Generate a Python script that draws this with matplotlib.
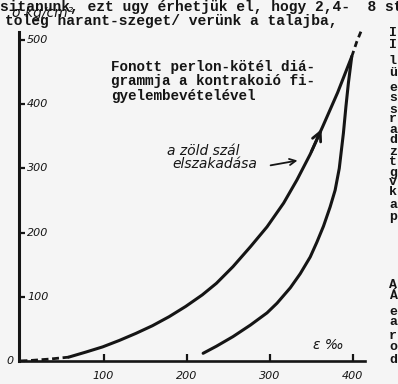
import matplotlib.pyplot as plt

# loading branch (dashed near the origin, then solid)
load_dash_x = [0, 14, 35, 58]
load_dash_y = [0, 1, 3, 6]
load_x = [58, 79, 99, 119, 139, 159, 179, 199, 219, 236, 256, 277, 297, 317, 333, 349, 364, 382, 399]
load_y = [6, 14, 22, 32, 43, 55, 69, 85, 103, 121, 147, 178, 209, 246, 282, 322, 365, 418, 474]
# unloading branch
unload_x = [220, 236, 256, 277, 297, 309, 325, 337, 349, 357, 365, 373, 379, 384, 389, 392, 395, 399]
unload_y = [12, 23, 38, 56, 75, 90, 114, 136, 162, 185, 210, 240, 266, 300, 355, 396, 433, 474]
# dashed continuation above the peak
ext_x = [399, 405, 411]
ext_y = [474, 497, 516]

xticks = [100, 200, 300, 400]
yticks = [0, 100, 200, 300, 400, 500]

title_lines = ["Fonott perlon-kötél diá-",
               "grammja a kontrakoió fi-",
               "gyelembevételével"]
note_lines = ["a zöld szál", "elszakadása"]
top_lines = ["sitanunk, ezt ugy érhetjük el, hogy 2,4-  8 st",
             "toleg harant-szeget/ verünk a talajba,"]
side_top = ["I", "I", "l", "ü", "e", "s", "s", "r", "a", "d", "z", "t", "g", "v", "k", "a", "p"]
side_bot = ["A", "Á", "e", "a", "r", "o", "d"]

ink = "#151515"
paper = "#f5f5f5"
mono = {"family": "Liberation Mono", "weight": "bold", "size": 10.5}
hand = {"family": "DejaVu Sans", "style": "italic"}

W, H = 398, 384
fig = plt.figure(figsize=(W / 100, H / 100), dpi=100, facecolor=paper)
ax = fig.add_axes([19 / W, (H - 361) / H, 346 / W, 356 / H])
ax.set_facecolor(paper)
ax.set_xlim(-1.8, 415)
ax.set_ylim(0, 554.5)

ax.plot(load_dash_x, load_dash_y, color=ink, lw=2.0, ls=(0, (2.5, 1.3)),
        solid_capstyle="round")
ax.plot(load_x, load_y, color=ink, lw=2.2, solid_capstyle="round", solid_joinstyle="round")
ax.plot(unload_x, unload_y, color=ink, lw=2.2, solid_capstyle="round", solid_joinstyle="round")
ax.plot(ext_x, ext_y, color=ink, lw=2.0, ls=(0, (2.2, 1.5)))

# arrowhead on the loading branch
i = load_x.index(364)
ax.annotate("", xy=(load_x[i], load_y[i]), xytext=(load_x[i - 1], load_y[i - 1]),
            arrowprops=dict(arrowstyle="->", color=ink, lw=2.0, mutation_scale=16))

for sp in ["top", "right"]:
    ax.spines[sp].set_visible(False)
ax.spines["left"].set_linewidth(2.2)
ax.spines["bottom"].set_linewidth(1.9)
ax.spines["left"].set_color(ink)
ax.spines["bottom"].set_color(ink)
ax.spines["left"].set_bounds(0, 512)

ax.set_xticks(xticks)
ax.set_xticklabels([str(v) for v in xticks], fontsize=8, color=ink, **hand)
ax.tick_params(axis="x", direction="in", length=5, width=1.6, color=ink, pad=7)
ax.set_yticks(yticks)
ax.set_yticklabels([])
ax.tick_params(axis="y", direction="in", length=4, width=1.6, color=ink)
for v in yticks[1:]:
    ax.text(8, v, str(v), ha="left", va="center", fontsize=8, color=ink, **hand)
ax.text(-12.6, 0, "0", ha="center", va="center", fontsize=8, color=ink, **hand)
ax.text(371, 25, "ε ‰", ha="center", va="center", fontsize=10, color=ink, **hand)

# typed caption inside the chart
for k, line in enumerate(title_lines):
    fig.text(111 / W, 1 - (67 + 14.5 * k) / H, line, ha="left", va="center",
             color=ink, **dict(mono, size=10.3))

# handwritten note with arrow
ax.text(176.5, 327, note_lines[0], ha="left", va="center", fontsize=10, color=ink, **hand)
ax.text(182.5, 307, note_lines[1], ha="left", va="center", fontsize=10, color=ink, **hand)
ax.annotate("", xy=(337, 313), xytext=(298, 304),
            arrowprops=dict(arrowstyle="->", color=ink, lw=1.3, mutation_scale=11))

# surrounding typed page text
fig.text(0 / W, 1 - 11 / H, top_lines[0], ha="left", va="baseline", color=ink, **mono)
fig.text(5 / W, 1 - 25 / H, top_lines[1], ha="left", va="baseline", color=ink, **mono)
fig.text(12 / W, 1 - 17 / H, "σ kg/cm²", ha="left", va="baseline", fontsize=10,
         color=ink, **hand)
side_top_y = [33, 45, 61, 73, 88, 98, 110, 119, 130, 140, 152, 162, 173, 182, 192, 205, 217]
for ch, y in zip(side_top, side_top_y):
    fig.text(389 / W, 1 - y / H, ch, ha="left", va="center", color=ink, **dict(mono, size=9.5))
side_bot_y = [285, 296, 312, 322, 336, 347, 360]
for ch, y in zip(side_bot, side_bot_y):
    fig.text(389 / W, 1 - y / H, ch, ha="left", va="center", color=ink, **dict(mono, size=9.5))

fig.savefig("out.png", dpi=100, facecolor=paper)
